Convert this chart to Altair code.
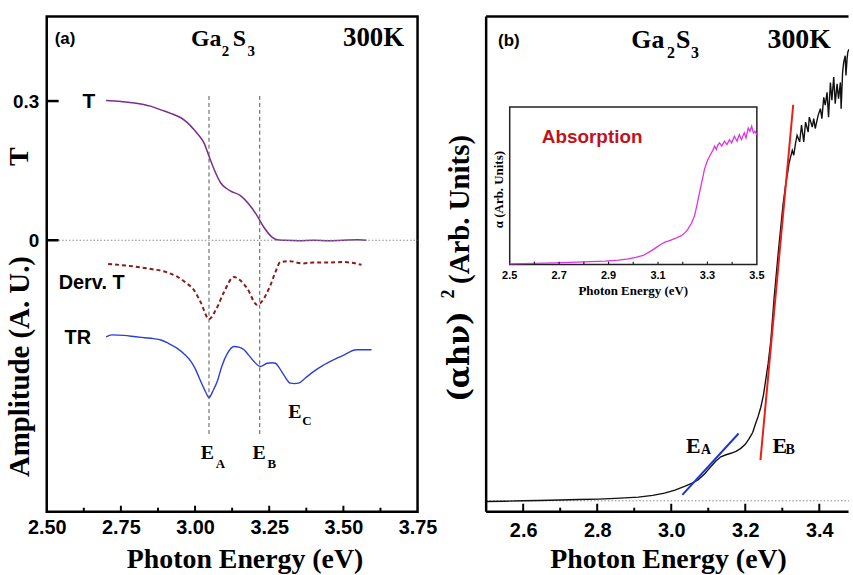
import altair as alt
import pandas as pd

# ---------------- Panel (a) data ----------------
T_E = [2.700, 2.750, 2.796, 2.850, 2.885, 2.920, 2.952, 2.975, 2.997, 3.015, 3.030, 3.047, 3.064, 3.086, 3.105,
       3.120, 3.153, 3.181, 3.209, 3.232, 3.254, 3.276, 3.300, 3.350, 3.400, 3.450, 3.500, 3.550, 3.578]
T_V = [0.301, 0.299, 0.296, 0.289, 0.281, 0.273, 0.264, 0.253, 0.238, 0.224, 0.210, 0.181, 0.153, 0.124, 0.112,
       0.106, 0.096, 0.078, 0.053, 0.028, 0.010, 0.001, 0.000, -0.001, 0.000, -0.001, 0.000, 0.001, 0.000]

DT_E = [2.707, 2.800, 2.852, 2.900, 2.941, 2.970, 2.997, 3.020, 3.047, 3.070, 3.098, 3.131, 3.150, 3.176, 3.209,
        3.230, 3.244, 3.254, 3.270, 3.288, 3.320, 3.360, 3.400, 3.450, 3.500, 3.561]
DT_V = [-0.051, -0.057, -0.062, -0.068, -0.079, -0.092, -0.108, -0.135, -0.170, -0.150, -0.111, -0.079, -0.085,
        -0.104, -0.139, -0.128, -0.111, -0.097, -0.070, -0.047, -0.045, -0.050, -0.048, -0.048, -0.047, -0.053]

TR_E = [2.700, 2.720, 2.760, 2.800, 2.830, 2.860, 2.885, 2.910, 2.940, 2.965, 2.986, 3.000, 3.019, 3.035, 3.047,
        3.060, 3.075, 3.090, 3.109, 3.131, 3.150, 3.165, 3.180, 3.198, 3.220, 3.243, 3.260, 3.271, 3.285, 3.299,
        3.321, 3.335, 3.349, 3.370, 3.399, 3.430, 3.466, 3.500, 3.544, 3.570, 3.595]
TR_V = [-0.208, -0.204, -0.205, -0.208, -0.210, -0.212, -0.215, -0.222, -0.233, -0.246, -0.261, -0.276, -0.304,
        -0.326, -0.339, -0.325, -0.304, -0.272, -0.244, -0.229, -0.231, -0.236, -0.247, -0.261, -0.272, -0.265,
        -0.264, -0.265, -0.276, -0.290, -0.308, -0.309, -0.308, -0.298, -0.283, -0.270, -0.258, -0.248, -0.236,
        -0.236, -0.236]

A_XTICKS = [2.50, 2.75, 3.00, 3.25, 3.50, 3.75]
A_XMINOR = [2.625, 2.875, 3.125, 3.375, 3.625]
A_YTICKS = [0.0, 0.3]
A_MARKERS = [3.047, 3.218]

# ---------------- Panel (b) data ----------------
B_E = [2.500, 2.550, 2.600, 2.642, 2.700, 2.750, 2.803, 2.850, 2.911, 2.950, 2.982, 3.010, 3.036, 3.055, 3.072,
       3.090, 3.107, 3.120, 3.134, 3.148, 3.161, 3.175, 3.188, 3.200, 3.211, 3.220, 3.228, 3.235, 3.242, 3.249,
       3.255, 3.262, 3.269, 3.278, 3.290, 3.302, 3.310, 3.315, 3.318, 3.322, 3.327, 3.331, 3.336, 3.340, 3.347,
       3.352, 3.358, 3.363, 3.370, 3.373, 3.381, 3.385, 3.389, 3.397, 3.403, 3.407, 3.412, 3.416, 3.421, 3.425,
       3.430, 3.434, 3.439, 3.443, 3.448, 3.452, 3.457, 3.459, 3.463, 3.466, 3.470, 3.472, 3.475, 3.477, 3.480]
B_V = [2.07, 2.12, 2.20, 2.27, 2.36, 2.45, 2.55, 2.70, 2.95, 3.30, 3.75, 4.35, 5.10, 5.70, 6.40,
       7.60, 9.10, 10.20, 11.10, 11.50, 11.80, 12.20, 12.80, 13.60, 14.80, 16.00, 17.80, 19.30, 21.10, 23.50,
       26.50, 30.00, 34.50, 43.20, 53.00, 62.00, 66.50, 68.70, 70.30, 71.50, 73.0, 72.0, 74.5, 76.0, 74.7,
       78.1, 74.7, 78.7, 76.7, 79.7, 77.7, 79.4, 77.4, 80.1, 81.4, 79.4, 83.7, 82.1, 84.7, 79.7,
       86.7, 83.1, 87.8, 82.4, 86.4, 83.4, 86.7, 81.4, 88.8, 90.8, 92.1, 88.1, 91.4, 92.8, 93.4]
B_BASELINE = 2.2
FIT_A_E = [3.030, 3.182]
FIT_A_V = [3.4, 15.8]
FIT_B_E = [3.241, 3.3295]
FIT_B_V = [10.4, 82.2]
B_XTICKS = [2.6, 2.8, 3.0, 3.2, 3.4]
B_XMINOR = [2.7, 2.9, 3.1, 3.3]

# inset (absorption)
I_E = [2.500, 2.600, 2.685, 2.800, 2.886, 2.940, 2.980, 3.010, 3.040, 3.074, 3.095, 3.114, 3.130, 3.147, 3.170,
       3.194, 3.210, 3.221, 3.235, 3.248, 3.258, 3.268, 3.278, 3.288, 3.300, 3.313, 3.322, 3.329, 3.336, 3.342,
       3.349, 3.358, 3.369, 3.379, 3.389, 3.398, 3.409, 3.420, 3.429, 3.438, 3.449, 3.456, 3.465, 3.472, 3.479,
       3.486, 3.492, 3.500]
I_W = [0.4, 0.7, 1.0, 1.6, 2.1, 2.7, 3.5, 4.5, 5.7, 8.8, 11.0, 13.0, 14.3, 15.2, 16.5,
       18.3, 20.2, 22.5, 26.0, 31.0, 38.0, 45.7, 53.0, 60.4, 66.0, 70.0, 72.5, 75.2, 73.0, 75.8,
       77.3, 75.2, 78.3, 76.2, 79.3, 77.3, 81.5, 78.3, 82.5, 79.3, 83.6, 80.4, 86.7, 84.6, 87.8,
       83.6, 84.6, 82.5]
I_XTICKS = [2.5, 2.7, 2.9, 3.1, 3.3, 3.5]
I_XMINOR = [2.6, 2.8, 3.0, 3.2, 3.4]

# ---------------- styling ----------------
SERIF = "Liberation Serif"
SANS = "Liberation Sans"
W_A, W_B, H = 373, 366, 498
PURPLE, DRED, TRBLUE = "#7B2D8E", "#8B1A1A", "#2B3FD8"
MAGENTA, FITRED, FITBLUE = "#E030E8", "#E8201A", "#1E36D0"

ONE = pd.DataFrame({"k": [0]})


def txt(t, x, y, size, font=SERIF, weight="bold", color="black", align="left",
        baseline="alphabetic", angle=0):
    return alt.Chart(ONE).mark_text(
        text=t, font=font, fontSize=size, fontWeight=weight, color=color,
        align=align, baseline=baseline, angle=angle
    ).encode(x=alt.value(x), y=alt.value(y))


def vrule(x, y1, y2, color="black", width=2.5):
    return alt.Chart(ONE).mark_rule(color=color, strokeWidth=width).encode(
        x=alt.value(x), y=alt.value(y1), y2=alt.value(y2))


def hrule(y, x1, x2, color="black", width=2.5):
    return alt.Chart(ONE).mark_rule(color=color, strokeWidth=width).encode(
        y=alt.value(y), x=alt.value(x1), x2=alt.value(x2))


# ---------------- Panel (a) ----------------
xa = alt.Scale(domain=[2.5, 3.75], nice=False, zero=False)
ya = alt.Scale(domain=[-0.585, 0.482], nice=False, zero=False)

xa_axis = alt.Axis(values=A_XTICKS, format=".2f", labelFont=SANS, labelFontWeight="bold", labelFontSize=20,
                   labelColor="black", labelPadding=6, labelFlush=False, labelOverlap=False, ticks=False,
                   domain=False, grid=False, title="Photon Energy (eV)", titleFont=SERIF, titleFontSize=28,
                   titleFontWeight="bold", titleColor="black", titleX=199, titleY=56, titleAlign="center",
                   titleBaseline="alphabetic")
ya_axis = alt.Axis(values=A_YTICKS, labelExpr="datum.value == 0 ? '0' : format(datum.value, '.1f')",
                   labelFont=SANS, labelFontWeight="bold", labelFontSize=19, labelColor="black",
                   labelPadding=8, labelFlush=False, ticks=False, domain=False, grid=False, title="")

dfT = pd.DataFrame({"E": T_E, "V": T_V})
dfDT = pd.DataFrame({"E": DT_E, "V": DT_V})
dfTR = pd.DataFrame({"E": TR_E, "V": TR_V})

a_T = alt.Chart(dfT).mark_line(color=PURPLE, strokeWidth=1.5, interpolate="monotone").encode(
    x=alt.X("E:Q", scale=xa, axis=xa_axis), y=alt.Y("V:Q", scale=ya, axis=ya_axis))
a_DT = alt.Chart(dfDT).mark_line(color=DRED, strokeWidth=2, strokeDash=[4, 3], interpolate="monotone").encode(
    x=alt.X("E:Q", scale=xa, axis=None), y=alt.Y("V:Q", scale=ya, axis=None))
a_TR = alt.Chart(dfTR).mark_line(color=TRBLUE, strokeWidth=1.4, interpolate="monotone").encode(
    x=alt.X("E:Q", scale=xa, axis=None), y=alt.Y("V:Q", scale=ya, axis=None))

a_zero = alt.Chart(ONE).mark_rule(color="#888888", strokeDash=[1.5, 2], strokeWidth=1).encode(
    y=alt.YDatum(0, scale=ya, axis=None), x=alt.value(12), x2=alt.value(W_A))
a_vl = alt.Chart(pd.DataFrame({"E": A_MARKERS})).mark_rule(color="#555555", strokeDash=[4, 3], strokeWidth=1).encode(
    x=alt.X("E:Q", scale=xa, axis=None), y=alt.YDatum(0.311, scale=ya, axis=None), y2=alt.datum(-0.422))

a_xt = alt.Chart(pd.DataFrame({"E": A_XTICKS[1:-1]})).mark_rule(color="black", strokeWidth=2).encode(
    x=alt.X("E:Q", scale=xa, axis=None), y=alt.value(H), y2=alt.value(H - 6))
a_xm = alt.Chart(pd.DataFrame({"E": A_XMINOR})).mark_rule(color="black", strokeWidth=2).encode(
    x=alt.X("E:Q", scale=xa, axis=None), y=alt.value(H), y2=alt.value(H - 4))
a_yt = alt.Chart(pd.DataFrame({"V": A_YTICKS})).mark_rule(color="black", strokeWidth=2.5).encode(
    y=alt.Y("V:Q", scale=ya, axis=None), x=alt.value(0), x2=alt.value(12))

# white pin that fixes the chart's outer bounds (left / top / bottom edges of the canvas)
a_pin = vrule(-44.5, -12.5, H + 63.5, color="white", width=1)

a_texts = [
    txt("(a)", 8, 23, 17, font=SANS, baseline="middle"),
    txt("Ga", 145, 30, 24), txt("2", 176, 40, 15), txt("S", 187, 30, 24), txt("3", 202, 40, 15),
    txt("300K", 298, 30, 27),
    txt("T", 36, 92, 21, font=SANS),
    txt("Derv. T", 12, 274, 20, font=SANS),
    txt("TR", 18, 329, 20, font=SANS),
    txt("E", 155, 445, 20), txt("A", 170, 454, 13),
    txt("E", 207, 445, 20), txt("B", 222, 454, 13),
    txt("E", 243, 404, 20), txt("C", 257, 411, 13),
    txt("T", -27, 141, 28, align="center", baseline="middle", angle=270),
    txt("Amplitude (A. U.)", -27, 352, 29, align="center", baseline="middle", angle=270),
]

panel_a = alt.layer(a_pin, a_T, a_zero, a_vl, a_DT, a_TR, a_xt, a_xm, a_yt, *a_texts).resolve_axis(
    x="independent", y="independent").properties(
    width=W_A, height=H, view=alt.ViewBackground(stroke="black", strokeWidth=2.5))

# ---------------- Panel (b) ----------------
xb = alt.Scale(domain=[2.5, 3.483], nice=False, zero=False)
yb = alt.Scale(domain=[0, 100], nice=False, zero=False)
xb_axis = alt.Axis(values=B_XTICKS, format=".1f", labelFont=SANS, labelFontWeight="bold", labelFontSize=20,
                   labelColor="black", labelPadding=9, labelFlush=False, labelOverlap=False, ticks=False,
                   domain=False, grid=False, title="Photon Energy (eV)", titleFont=SERIF, titleFontSize=28,
                   titleFontWeight="bold", titleColor="black", titleY=56, titleBaseline="alphabetic")

dfB = pd.DataFrame({"E": B_E, "V": B_V})
b_curve = alt.Chart(dfB).mark_line(color="#111111", strokeWidth=1.4).encode(
    x=alt.X("E:Q", scale=xb, axis=xb_axis), y=alt.Y("V:Q", scale=yb, axis=None))
b_base = alt.Chart(ONE).mark_rule(color="#888888", strokeDash=[1.5, 2], strokeWidth=1).encode(
    y=alt.YDatum(B_BASELINE, scale=yb, axis=None), x=alt.value(0), x2=alt.value(W_B - 1))
b_fitA = alt.Chart(pd.DataFrame({"E": FIT_A_E, "V": FIT_A_V})).mark_line(color=FITBLUE, strokeWidth=2).encode(
    x=alt.X("E:Q", scale=xb, axis=None), y=alt.Y("V:Q", scale=yb, axis=None))
b_fitB = alt.Chart(pd.DataFrame({"E": FIT_B_E, "V": FIT_B_V})).mark_line(color=FITRED, strokeWidth=2).encode(
    x=alt.X("E:Q", scale=xb, axis=None), y=alt.Y("V:Q", scale=yb, axis=None))
b_xt = alt.Chart(pd.DataFrame({"E": B_XTICKS})).mark_rule(color="black", strokeWidth=2).encode(
    x=alt.X("E:Q", scale=xb, axis=None), y=alt.value(H), y2=alt.value(H - 8))
b_xm = alt.Chart(pd.DataFrame({"E": B_XMINOR})).mark_rule(color="black", strokeWidth=2).encode(
    x=alt.X("E:Q", scale=xb, axis=None), y=alt.value(H), y2=alt.value(H - 4))
b_frame = [
    vrule(0, 0, H),
    hrule(0, 0, W_B - 1.5),
    hrule(H, 0, W_B - 1.5),
    vrule(W_B - 0.5, 0, H, color="white", width=1),
]
b_texts = [
    txt("(b)", 12, 25, 17, font=SANS, baseline="middle"),
    txt("Ga", 146, 32, 26), txt("2", 182, 42, 16), txt("S", 191, 32, 26), txt("3", 206, 42, 16),
    txt("300K", 283, 32, 28),
    txt("E", 201, 439, 22), txt("A", 216, 440, 14),
    txt("E", 288, 439, 22), txt("B", 301, 440, 14),
    txt("(Arb. Units)", -26, 194, 29, align="center", baseline="middle", angle=270),
    txt("2", -37, 279, 18, align="center", baseline="middle", angle=270),
    txt("(\u03b1h\u03bd)", -26, 342, 29, font="DejaVu Serif", align="center", baseline="middle", angle=270),
    txt("Absorption", 56, 127, 19, font=SANS, color="#C0141C"),
    txt("Photon Energy (eV)", 148, 276, 13, align="center", baseline="middle"),
    txt("\u03b1 (Arb. Units)", 13, 174, 13, align="center", baseline="middle", angle=270),
]

xi = alt.Scale(domain=[2.5, 3.5], range=[23.7, 272.3], nice=False, zero=False)
yi = alt.Scale(domain=[0, 100], range=[249.3, 91], nice=False, zero=False)
dfI = pd.DataFrame({"E": I_E, "V": I_W})
i_frame = alt.Chart(ONE).mark_rect(fill="white", stroke="#222222", strokeWidth=1.5).encode(
    x=alt.XDatum(2.5, scale=xi, axis=None), x2=alt.datum(3.5),
    y=alt.YDatum(0, scale=yi, axis=None), y2=alt.datum(100))
i_curve = alt.Chart(dfI).mark_line(color=MAGENTA, strokeWidth=1.3).encode(
    x=alt.X("E:Q", scale=xi, axis=None), y=alt.Y("V:Q", scale=yi, axis=None))
i_ticks = alt.Chart(pd.DataFrame({"E": I_XTICKS[1:-1] + I_XMINOR})).mark_rule(color="#222222", strokeWidth=1.2).encode(
    x=alt.X("E:Q", scale=xi, axis=None), y=alt.value(249.3), y2=alt.value(246.5))
i_labels = alt.Chart(pd.DataFrame({"E": I_XTICKS})).mark_text(
    font=SANS, fontWeight="bold", fontSize=11, color="black", baseline="middle").encode(
    x=alt.X("E:Q", scale=xi, axis=None), y=alt.value(261), text=alt.Text("E:Q", format=".1f"))

panel_b = alt.layer(
    b_base, b_curve, b_fitA, b_fitB, b_xt, b_xm, *b_frame,
    i_frame, i_curve, i_ticks, i_labels, *b_texts
).resolve_scale(x="independent", y="independent").properties(width=W_B, height=H)

chart = alt.hconcat(panel_a, panel_b, spacing=69, bounds="flush").properties(
    padding=0,
    background="white",
).configure_view(stroke="transparent")

chart.save("out.html", embed_options={"renderer": "svg", "actions": False})
